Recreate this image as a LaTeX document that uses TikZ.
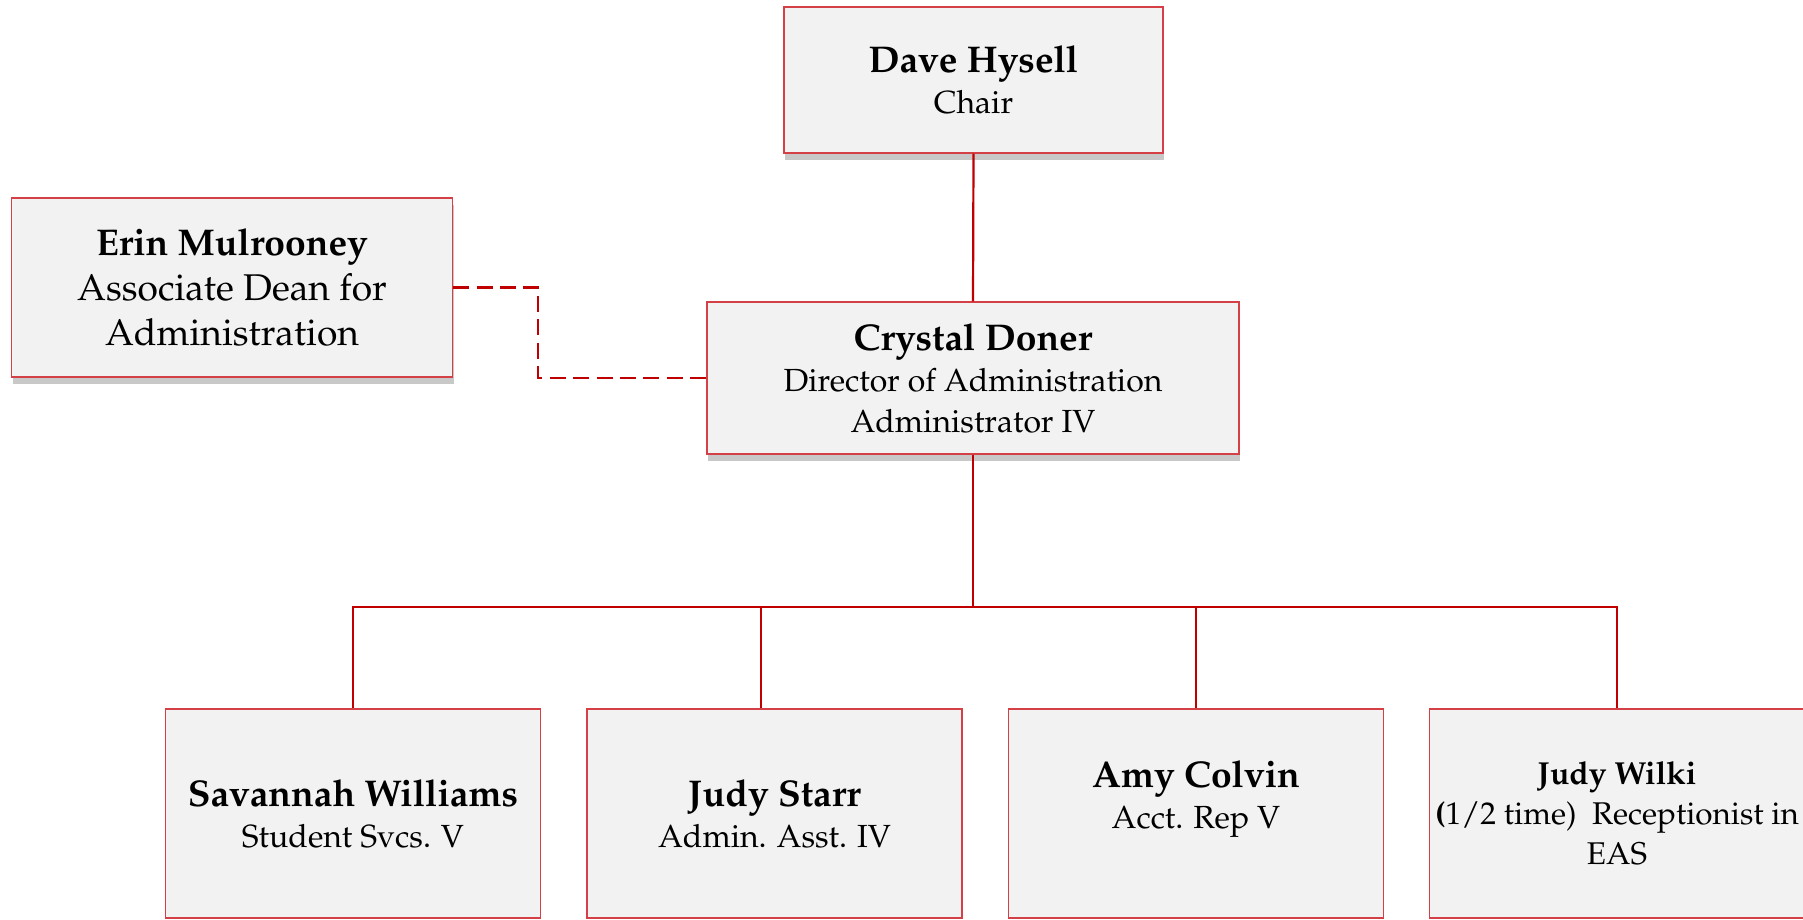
\documentclass[tikz,border=0pt]{standalone}
\usepackage[T1]{fontenc}
\usepackage{mathpazo}
\usepackage{tikz}
\usetikzlibrary{shadows}

\definecolor{linkred}{RGB}{192,0,0}
\definecolor{boxred}{RGB}{212,64,70}
\definecolor{boxfill}{RGB}{242,242,242}
\definecolor{shadowgray}{RGB}{200,200,200}

\newcommand{\nm}[1]{{\fontsize{18.6}{20.5}\selectfont\bfseries #1}}

\tikzset{
  person/.style={draw=boxred,fill=boxfill,line width=0.6pt,align=center,inner sep=0pt,
    font=\fontsize{16}{20.5}\selectfont},
  raised/.style={drop shadow={shadow xshift=0.5pt,shadow yshift=-3.5pt,fill=shadowgray,opacity=1}},
  staff/.style={person,minimum width=187.5pt,minimum height=104.5pt},
  link/.style={draw=linkred,line width=1.1pt},
  dotlink/.style={link,dash pattern=on 8pt off 3.7pt}
}

\begin{document}
\begin{tikzpicture}[x=0.5pt,y=0.5pt]
\useasboundingbox (0,0) rectangle (1803,920);
%top
\node[person,raised,minimum width=189.5pt,minimum height=73pt] (dave) at (973.5,840) {\nm{Dave Hysell}\\Chair};
\node[person,raised,minimum width=266pt,minimum height=76pt] (crystal) at (973,542)
  {\nm{Crystal Doner}\\Director of Administration\\Administrator IV};
\node[person,raised,minimum width=220.5pt,minimum height=89.5pt,font=\fontsize{18.6}{22.5}\selectfont] (erin) at (232,632.5)
  {\nm{Erin Mulrooney}\\Associate Dean for\\Administration};
%staff
\node[staff] (savannah) at (353,106.5) {\nm{Savannah Williams}\\Student Svcs. V};
\node[staff] (starr) at (774.5,106.5) {\nm{Judy Starr}\\Admin. Asst. IV};
\node[staff] (amy) at (1196,106.5) {\nm{Amy Colvin}\\Acct. Rep V\\[-1.5pt]\mbox{}};
\node[staff,font=\fontsize{15.7}{20}\selectfont] (wilki) at (1617,106.5)
  {{\fontsize{15.9}{20}\selectfont\bfseries Judy Wilki}\\\textbf{(}1/2 time)\ \ Receptionist in\\EAS};
%connectors
\coordinate (bus) at (973,313);
\draw[link] (dave.south) -- (crystal.north);
\draw[link] (crystal.south) -- (bus);
\foreach \b in {savannah,amy,wilki}
\draw[link] (bus) -| (\b.north);
\draw[link] (bus) -| ([xshift=-6.75pt]starr.north);
\draw[dotlink] (erin.east) -- ++(85,0) |- (crystal.west);
\end{tikzpicture}
\end{document}
